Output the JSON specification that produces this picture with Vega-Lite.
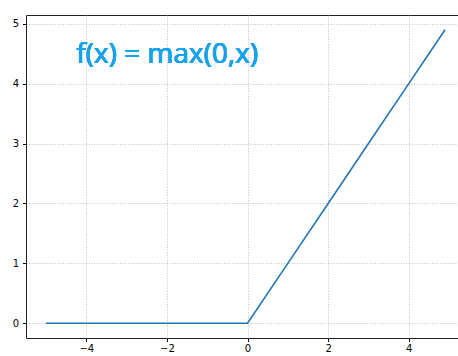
{
  "$schema": "https://vega.github.io/schema/vega-lite/v6.json",
  "width": 439,
  "height": 323,
  "autosize": "none",
  "padding": {"left": 26, "top": 15, "right": 0, "bottom": 18},
  "background": "white",
  "config": {
    "view": {"stroke": "#222", "strokeWidth": 1},
    "axis": {
      "labelFont": "DejaVu Sans",
      "labelFontSize": 10,
      "labelColor": "#000",
      "tickColor": "#000",
      "tickSize": 3.5,
      "domain": false,
      "gridColor": "#b0b0b0",
      "gridDash": [1, 1.6],
      "gridWidth": 0.8,
      "labelPadding": 2,
      "title": null
    }
  },
  "data": {
    "values": [
      {"x": -5, "y": 0},
      {"x": -4, "y": 0},
      {"x": -3, "y": 0},
      {"x": -2, "y": 0},
      {"x": -1, "y": 0},
      {"x": 0, "y": 0},
      {"x": 1, "y": 1},
      {"x": 2, "y": 2},
      {"x": 3, "y": 3},
      {"x": 4, "y": 4},
      {"x": 4.9, "y": 4.9}
    ]
  },
  "layer": [
    {
      "mark": {"type": "line", "color": "#1f77b4", "strokeWidth": 1.6, "clip": true},
      "encoding": {
        "x": {"field": "x", "type": "quantitative", "scale": {"domain": [-5.495, 5.395], "nice": false, "zero": false},
              "axis": {"values": [-4, -2, 0, 2, 4], "grid": true, "format": "d", "labelPadding": 2, "labelBaseline": "top"}},
        "y": {"field": "y", "type": "quantitative", "scale": {"domain": [-0.245, 5.145], "nice": false},
              "axis": {"values": [0, 1, 2, 3, 4, 5], "grid": true, "format": "d", "labelPadding": 4}}
      }
    },
    {
      "mark": {"type": "text", "text": "f(x) = max(0,x)", "font": "Open Sans", "fontSize": 28, "fontWeight": "normal", "color": "#17a3e9", "align": "left", "baseline": "middle"},
      "encoding": {
        "x": {"datum": -4.25, "type": "quantitative"},
        "y": {"datum": 4.48, "type": "quantitative"}
      }
    }
  ]
}
